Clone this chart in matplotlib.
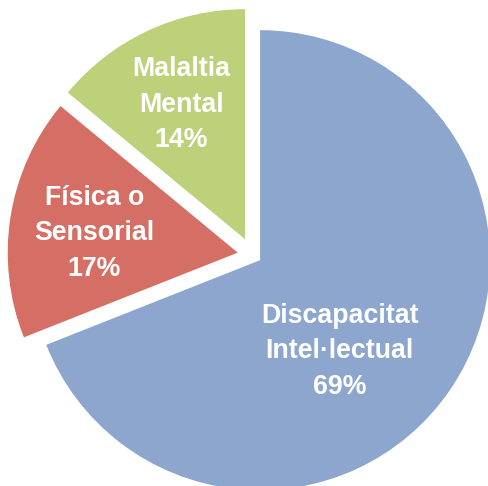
import matplotlib
matplotlib.use("Agg")
import matplotlib.pyplot as plt

# Data
categories = ["Discapacitat\nIntel·lectual", "Física o\nSensorial", "Malaltia\nMental"]
values = [69, 17, 14]

# Styles / layout
colors = ["#8ca6ce", "#d56f65", "#bdd07a"]
explode = [0.040, 0.065, 0.076]
label_offsets = [(0.346, -0.396), (-0.623, 0.084), (-0.276, 0.584)]

R_PX = 230.0
W, H = 488, 486
CX, CY = 252.5, 255.0  # pie centre in pixels from top-left

fig = plt.figure(figsize=(W / 100, H / 100), dpi=100)
ax = fig.add_axes([0, 0, 1, 1])

wedges, _ = ax.pie(values, colors=colors, startangle=90, counterclock=False,
                   radius=1.0, explode=explode, wedgeprops=dict(linewidth=0))

for w, cat, v, loff in zip(wedges, categories, values, label_offsets):
    cx, cy = w.center
    ax.text(cx + loff[0], cy + loff[1], f"{cat}\n{v}%",
            ha="center", va="center", color="white", fontsize=19.3,
            fontweight="bold", family="Liberation Sans", linespacing=1.48)

ax.set_xlim(-CX / R_PX, (W - CX) / R_PX)
ax.set_ylim(-(H - CY) / R_PX, CY / R_PX)
ax.set_aspect("auto")
ax.axis("off")

fig.savefig("out.png", dpi=100)
